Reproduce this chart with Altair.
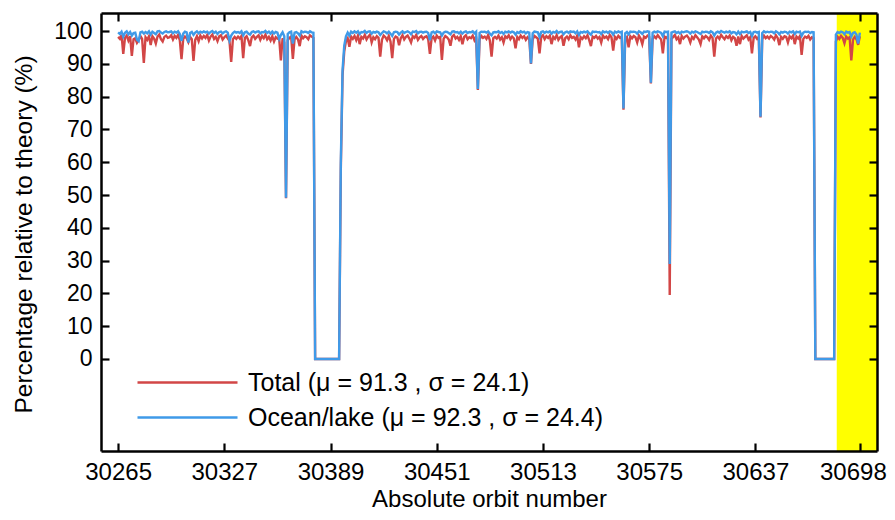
import altair as alt
import pandas as pd

# ---------------- data ----------------
orbit_start = 30265

total = [
    98.2, 97.6, 98.8, 93.0, 97.9, 98.6, 97.1, 98.4, 92.4, 97.5,
    97.8, 96.4, 97.2, 98.5, 97.6, 90.3, 98.1, 97.3, 98.4, 95.7,
    98.4, 97.7, 96.2, 98.3, 98.9, 97.5, 96.8, 98.2, 98.6, 97.9,
    98.1, 98.7, 97.4, 98.5, 97.9, 98.8, 97.2, 91.4, 97.6, 98.3,
    97.8, 96.6, 98.2, 97.5, 90.9, 97.3, 98.4, 96.9, 98.6, 97.7,
    98.5, 97.9, 98.8, 97.1, 98.3, 98.9, 97.6, 98.2, 96.9, 98.4,
    98.7, 97.4, 98.1, 98.6, 97.8, 97.0, 90.6, 97.5, 98.2, 97.6,
    98.3, 97.7, 98.5, 91.7, 97.9, 98.4, 97.2, 95.4, 98.1, 98.6,
    97.6, 98.2, 98.7, 97.3, 98.5, 97.8, 98.9, 97.5, 98.2, 97.1,
    98.4, 96.8, 98.1, 97.7, 97.9, 91.0, 97.8, 96.5, 49.0, 97.2,
    97.9, 98.3, 91.5, 97.6, 98.2, 97.4, 95.4, 98.6, 97.8, 98.4,
    98.1, 97.5, 98.7, 98.3, 97.9, 0.0, 0.0, 0.0, 0.0, 0.0,
    0.0, 0.0, 0.0, 0.0, 0.0, 0.0, 0.0, 0.0, 0.0, 0.0,
    58.0, 86.5, 93.8, 96.9, 97.8, 95.2, 98.3, 97.6, 98.5, 97.2,
    98.6, 96.0, 98.2, 97.7, 98.8, 97.4, 98.3, 98.9, 96.5, 98.1,
    97.5, 98.4, 97.9, 92.2, 97.3, 98.6, 98.1, 97.2, 98.5, 96.8,
    91.7, 97.6, 98.3, 98.0, 95.7, 97.8, 98.7, 97.4, 98.2, 98.6,
    97.7, 96.5, 98.4, 97.9, 98.8, 97.3, 98.1, 98.5, 97.6, 98.2,
    98.4, 97.5, 93.0, 97.8, 98.3, 97.1, 98.6, 97.9, 98.2, 91.2,
    97.6, 98.5, 98.1, 97.4, 95.5, 98.3, 98.8, 97.7, 98.2, 97.3,
    98.4, 96.0, 98.2, 98.7, 97.5, 98.1, 97.8, 98.6, 97.2, 98.3,
    82.0, 97.4, 98.5, 97.9, 98.3, 97.6, 98.8, 97.1, 92.2, 97.8,
    98.2, 97.7, 98.6, 97.4, 98.1, 96.5, 98.4, 97.9, 98.7, 97.5,
    98.3, 97.8, 94.7, 98.2, 97.5, 98.6, 97.9, 98.4, 97.3, 98.1,
    97.6, 90.0, 97.4, 98.5, 98.1, 97.7, 93.2, 98.2, 98.7, 97.5,
    98.4, 97.9, 98.6, 96.0, 98.2, 97.6, 98.8, 97.3, 98.1, 98.5,
    95.5, 97.8, 98.3, 97.5, 98.7, 97.9, 98.2, 97.4, 98.6, 95.0,
    98.1, 97.6, 98.4, 97.8, 98.7, 97.2, 95.4, 98.3, 97.9, 98.5,
    97.7, 98.2, 96.5, 98.6, 97.9, 98.3, 97.5, 98.8, 98.1, 94.0,
    98.2, 97.6, 98.5, 97.9, 98.3, 76.0, 97.4, 98.1, 95.0, 98.4,
    97.8, 98.5, 98.1, 96.5, 98.6, 97.7, 96.0, 98.3, 97.9, 98.6,
    98.2, 84.0, 97.5, 98.4, 97.8, 98.7, 98.0, 97.4, 93.2, 98.3,
    97.9, 98.4, 19.5, 97.6, 98.2, 98.8, 97.5, 98.1, 96.0, 98.5,
    97.7, 98.3, 98.6, 97.9, 96.5, 98.2, 97.6, 98.7, 98.1, 97.4,
    96.0, 98.4, 97.8, 98.5, 98.1, 97.3, 98.6, 97.9, 92.2, 97.7,
    98.3, 97.6, 98.8, 98.1, 97.5, 98.4, 97.9, 98.6, 97.2, 98.2,
    97.8, 95.5, 98.3, 96.0, 98.5, 97.7, 98.2, 98.7, 97.4, 98.1,
    93.2, 97.9, 98.4, 97.6, 98.2, 73.6, 97.5, 98.6, 97.8, 98.3,
    97.7, 98.5, 98.1, 97.4, 98.7, 97.9, 95.7, 98.2, 97.6, 98.4,
    98.2, 96.5, 98.4, 97.8, 98.6, 96.0, 98.3, 97.7, 98.5, 92.7,
    97.6, 98.3, 97.9, 98.5, 97.4, 98.1, 97.8, 0.0, 0.0, 0.0,
    0.0, 0.0, 0.0, 0.0, 0.0, 0.0, 0.0, 0.0, 0.0, 96.8,
    98.2, 97.6, 98.5, 97.9, 96.3, 98.3, 97.7, 98.1, 91.0, 97.4,
    98.2, 97.5, 95.8, 98.4,
]

ocean = [
    99.6, 99.1, 99.8, 98.3, 99.5, 99.9, 99.0, 99.7, 98.6, 99.4,
    99.5, 97.4, 96.9, 99.6, 99.8, 99.2, 99.7, 99.3, 99.9, 98.9,
    99.8, 99.4, 99.0, 99.9, 100.0, 99.5, 99.2, 99.7, 99.9, 99.6,
    99.7, 99.9, 99.3, 99.8, 99.5, 99.9, 99.1, 97.0, 99.2, 99.8,
    99.6, 96.5, 99.4, 99.7, 98.8, 99.5, 99.9, 99.3, 99.8, 99.5,
    99.9, 99.6, 99.8, 99.2, 99.7, 100.0, 99.4, 99.8, 99.1, 99.7,
    99.8, 99.3, 99.7, 99.9, 99.5, 97.1, 98.6, 99.4, 99.8, 99.5,
    99.7, 99.4, 99.9, 98.7, 99.6, 99.8, 99.2, 98.9, 99.7, 99.9,
    99.5, 99.8, 99.9, 99.3, 99.7, 99.6, 100.0, 99.4, 99.8, 99.2,
    99.8, 99.2, 99.7, 99.5, 97.6, 98.8, 99.6, 98.4, 49.2, 99.1,
    99.6, 99.8, 96.2, 99.5, 99.7, 99.3, 98.6, 99.9, 99.6, 99.8,
    99.7, 99.4, 99.9, 99.6, 99.5, 0.0, 0.0, 0.0, 0.0, 0.0,
    0.0, 0.0, 0.0, 0.0, 0.0, 0.0, 0.0, 0.0, 0.0, 0.0,
    60.0, 88.0, 95.5, 98.4, 99.5, 98.6, 99.8, 99.4, 99.9, 99.5,
    99.9, 99.1, 99.7, 99.6, 100.0, 99.4, 99.8, 99.9, 99.2, 99.7,
    99.5, 99.8, 99.6, 98.8, 99.4, 99.9, 99.7, 99.3, 99.8, 99.2,
    98.5, 99.6, 99.8, 99.7, 98.9, 99.5, 99.9, 99.4, 99.7, 99.9,
    99.6, 99.0, 99.8, 99.7, 100.0, 99.3, 99.7, 99.8, 99.5, 99.7,
    99.8, 99.4, 97.2, 99.6, 99.8, 99.3, 99.9, 99.7, 99.6, 98.6,
    99.5, 99.8, 99.7, 99.4, 99.0, 99.8, 99.9, 99.6, 99.7, 99.3,
    99.8, 99.2, 99.7, 99.9, 99.4, 99.7, 99.6, 99.9, 99.3, 99.8,
    82.3, 99.4, 99.8, 99.7, 99.8, 99.5, 99.9, 99.2, 98.7, 99.6,
    99.7, 99.6, 99.9, 99.4, 99.7, 99.1, 99.8, 99.6, 99.9, 99.5,
    99.8, 99.6, 98.9, 99.7, 99.4, 99.9, 99.6, 99.8, 99.3, 99.7,
    99.5, 90.1, 99.3, 99.8, 99.7, 99.6, 98.2, 99.7, 99.9, 99.4,
    99.8, 99.6, 99.9, 99.2, 99.7, 99.5, 100.0, 99.4, 99.7, 99.8,
    99.0, 99.6, 99.8, 99.4, 99.9, 99.7, 99.8, 99.3, 99.9, 98.8,
    99.7, 99.5, 99.8, 99.6, 99.9, 99.3, 98.9, 99.8, 99.7, 99.8,
    99.6, 99.7, 99.1, 99.9, 99.6, 99.8, 99.4, 99.9, 99.7, 98.9,
    99.8, 99.5, 99.9, 99.6, 99.8, 76.4, 99.3, 99.7, 99.0, 99.8,
    99.7, 99.8, 99.7, 99.2, 99.9, 99.6, 99.1, 99.8, 99.7, 99.9,
    99.8, 84.2, 99.5, 99.8, 99.6, 99.9, 99.7, 99.4, 98.4, 99.8,
    99.7, 99.8, 29.0, 99.5, 99.7, 99.9, 99.4, 99.7, 99.2, 99.8,
    99.6, 99.8, 99.9, 99.7, 99.2, 99.8, 99.5, 99.9, 99.7, 99.4,
    99.1, 99.8, 99.6, 99.8, 99.7, 99.4, 99.9, 99.6, 98.6, 99.5,
    99.8, 99.5, 100.0, 99.7, 99.5, 99.8, 99.6, 99.9, 99.3, 99.7,
    99.6, 99.0, 99.8, 99.1, 99.8, 99.6, 99.7, 99.9, 99.4, 99.7,
    98.5, 99.7, 99.8, 99.5, 99.7, 73.9, 99.4, 99.9, 99.6, 99.8,
    99.6, 99.8, 99.7, 99.3, 99.9, 99.6, 99.0, 99.7, 99.5, 99.8,
    99.7, 99.2, 99.8, 99.6, 99.9, 99.1, 99.8, 99.6, 99.8, 98.5,
    99.5, 99.8, 99.7, 99.8, 99.4, 99.7, 99.6, 0.0, 0.0, 0.0,
    0.0, 0.0, 0.0, 0.0, 0.0, 0.0, 0.0, 0.0, 0.0, 98.9,
    99.7, 99.4, 99.8, 99.6, 99.0, 99.8, 99.5, 99.7, 98.3, 99.4,
    99.6, 98.9, 96.2, 99.5,
]

series_names = ["Total (\u03bc = 91.3 , \u03c3 = 24.1)",
                "Ocean/lake (\u03bc = 92.3 , \u03c3 = 24.4)"]
series_colors = ["#d24646", "#3f9ae8"]

x_ticks = [30265, 30327, 30389, 30451, 30513, 30575, 30637, 30698]
y_ticks = [0, 10, 20, 30, 40, 50, 60, 70, 80, 90, 100]
x_domain = [30255, 30708]
y_domain = [-28.05, 105.49]

band_start = [30684.5]
band_end = [30708]

# ---------------- tables ----------------
orbits = list(range(orbit_start, orbit_start + len(total)))
df = pd.DataFrame({
    "orbit": orbits + orbits,
    "value": total + ocean,
    "series": [series_names[0]] * len(total) + [series_names[1]] * len(ocean),
})
band_df = pd.DataFrame({"start": band_start, "end": band_end})

# ---------------- chart ----------------
W, H = 776, 438
FONT = "Liberation Sans"

xscale = alt.Scale(domain=x_domain, nice=False, zero=False)
yscale = alt.Scale(domain=y_domain, nice=False, zero=False)

tick_style = dict(labels=False, ticks=True, tickSize=8, tickWidth=2.2,
                  tickColor="black", grid=False, title=None, zindex=1,
                  domainColor="black", domainWidth=2.5)

# last tick label nudged left so that it stays inside the page
last_label_shift = {"condition": {"test": "datum.value == 30698", "value": -7},
                    "value": 0}

band = alt.Chart(band_df).mark_rect(color="#ffff00").encode(
    x=alt.X("start:Q", scale=xscale,
            axis=alt.Axis(orient="bottom", values=x_ticks, format="d",
                          labelFont=FONT, labelFontSize=24, labelColor="black",
                          labelPadding=9, labelOffset=last_label_shift,
                          ticks=False, tickSize=0,
                          domain=True, domainColor="black", domainWidth=2.5,
                          grid=False, zindex=1,
                          title="Absolute orbit number", titleFont=FONT,
                          titleFontSize=24, titleFontWeight="normal",
                          titleColor="black", titleBaseline="alphabetic",
                          titleY=55.5)),
    x2="end:Q",
)

lines = alt.Chart(df).mark_line(strokeWidth=2.4).encode(
    x=alt.X("orbit:Q", scale=xscale,
            axis=alt.Axis(orient="bottom", offset=-H, values=x_ticks,
                          domain=True, **tick_style)),
    y=alt.Y("value:Q", scale=yscale,
            axis=alt.Axis(orient="left", values=y_ticks, format="d",
                          labelFont=FONT, labelFontSize=23, labelColor="black",
                          labelPadding=9, ticks=False, tickSize=0,
                          domain=True, domainColor="black", domainWidth=2.5,
                          grid=False, zindex=1,
                          title="Percentage relative to theory (%)",
                          titleFont=FONT, titleFontSize=24.5,
                          titleFontWeight="normal", titleColor="black",
                          titleBaseline="middle", titleAlign="center",
                          titleX=-77, titleY=221)),
    color=alt.Color("series:N",
                    scale=alt.Scale(domain=series_names, range=series_colors),
                    legend=alt.Legend(orient="none", legendX=35, legendY=352,
                                      direction="vertical", title=None,
                                      symbolType="stroke", symbolSize=10000,
                                      symbolStrokeWidth=2.3, clipHeight=35,
                                      rowPadding=0, padding=0, labelOffset=9,
                                      labelFont=FONT, labelFontSize=25,
                                      labelColor="black", labelLimit=700)),
)

ticks_a = alt.Chart(df).mark_point(opacity=0).encode(
    x=alt.X("orbit:Q", scale=xscale,
            axis=alt.Axis(orient="top", offset=-H, values=x_ticks,
                          domain=False, **tick_style)),
    y=alt.Y("value:Q", scale=yscale,
            axis=alt.Axis(orient="right", offset=-W, values=y_ticks,
                          domain=False, **tick_style)),
)

ticks_b = alt.Chart(df).mark_point(opacity=0).encode(
    x=alt.X("orbit:Q", scale=xscale, axis=None),
    y=alt.Y("value:Q", scale=yscale,
            axis=alt.Axis(orient="left", offset=-W, values=y_ticks,
                          domain=True, **tick_style)),
)

chart = alt.layer(band, lines, ticks_a, ticks_b).resolve_axis(
    x="independent", y="independent"
).properties(
    width=W, height=H,
    autosize=alt.AutoSizeParams(type="none"),
    padding={"left": 93, "top": 5, "right": 10, "bottom": 61},
    background="white",
).configure_view(strokeWidth=0)

chart.save("out.html", embed_options={"renderer": "svg", "actions": False})
